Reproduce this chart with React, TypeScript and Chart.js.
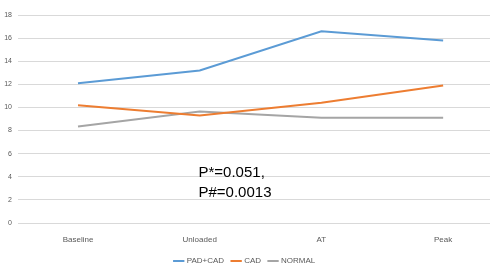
import React, { useEffect, useRef } from "react";
import { Chart, registerables } from "chart.js";

Chart.register(...registerables);

const categories = ["Baseline", "Unloaded", "AT", "Peak"];
const padCad = [12.1, 13.2, 16.6, 15.8];
const cad = [10.2, 9.3, 10.4, 11.9];
const normal = [8.35, 9.65, 9.1, 9.1];
const yTicks = [0, 2, 4, 6, 8, 10, 12, 14, 16, 18];
const annotationLines = ["P*=0.051,", "P#=0.0013"];

const toPoints = (vals: number[]) => vals.map((y, i) => ({ x: i, y }));

export default function App() {
  const ref = useRef<HTMLCanvasElement | null>(null);
  useEffect(() => {
    if (!ref.current) return;
    const annot = {
      id: "annot",
      afterDatasetsDraw(chart: any) {
        const { ctx, scales } = chart;
        ctx.save();
        ctx.fillStyle = "#000";
        ctx.font = '15px "Liberation Sans", Arial, sans-serif';
        ctx.textBaseline = "middle";
        const x0 = scales.x.getPixelForValue(0.99);
        ctx.fillText(annotationLines[0], x0, scales.y.getPixelForValue(4.35));
        ctx.fillText(annotationLines[1], x0, scales.y.getPixelForValue(2.6));
        ctx.restore();
      },
    };
    const mk = (label: string, data: number[], color: string) => ({
      label,
      data: toPoints(data),
      borderColor: color,
      backgroundColor: color,
      borderWidth: 2,
      pointRadius: 0,
      tension: 0,
      fill: false,
    });
    const chart = new Chart(ref.current, {
      type: "line",
      data: {
        datasets: [
          mk("PAD+CAD", padCad, "#5B9BD5"),
          mk("CAD", cad, "#ED7D31"),
          mk("NORMAL", normal, "#A5A5A5"),
        ],
      },
      plugins: [annot],
      options: {
        animation: false,
        responsive: false,
        layout: { padding: { top: 15, right: 3, left: 0, bottom: 0 } },
        plugins: {
          tooltip: { enabled: false },
          legend: {
            position: "bottom",
            labels: {
              usePointStyle: true,
              pointStyle: "line",
              boxWidth: 14,
              font: { size: 8, family: '"Liberation Sans", Arial, sans-serif' },
              color: "#595959",
              padding: 8,
            },
          },
        },
        scales: {
          x: {
            type: "linear",
            min: -0.493,
            max: 3.385,
            afterBuildTicks: (s: any) => {
              s.ticks = categories.map((_, i) => ({ value: i }));
            },
            ticks: {
              callback: (v: any) => categories[v as number] ?? "",
              font: { size: 8, family: '"Liberation Sans", Arial, sans-serif' },
              color: "#595959",
              padding: 4,
              autoSkip: false,
              maxRotation: 0,
            },
            grid: { display: false },
            border: { display: false },
            afterFit: (s: any) => {
              s.height = 26;
            },
          },
          y: {
            min: 0,
            max: 18,
            afterBuildTicks: (s: any) => {
              s.ticks = yTicks.map((v) => ({ value: v }));
            },
            ticks: {
              font: { size: 7, family: '"Liberation Sans", Arial, sans-serif' },
              color: "#595959",
              padding: 6,
            },
            grid: { color: "#D9D9D9", lineWidth: 1, drawTicks: false },
            border: { display: false },
            afterFit: (s: any) => {
              s.width = 18;
            },
          },
        },
      },
    } as any);
    return () => chart.destroy();
  }, []);
  return (
    <div style={{ position: "fixed", left: 0, top: 0, width: 493, height: 263, overflow: "hidden", background: "#fff" }}>
      <canvas ref={ref} width={493} height={275} />
    </div>
  );
}
